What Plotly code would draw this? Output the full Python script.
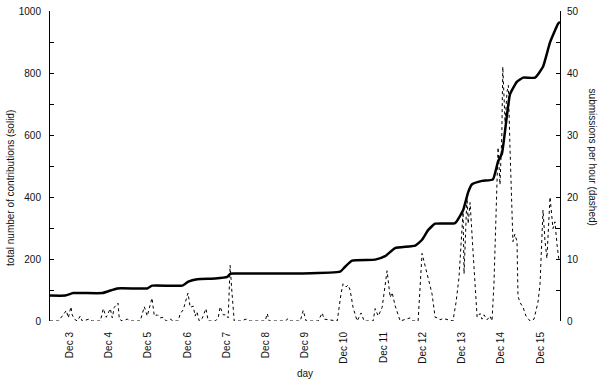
import plotly.graph_objects as go

# Time axis: hours since Dec 3, 00:00 (13 days shown)
day_labels = ["Dec 3", "Dec 4", "Dec 5", "Dec 6", "Dec 7", "Dec 8", "Dec 9",
              "Dec 10", "Dec 11", "Dec 12", "Dec 13", "Dec 14", "Dec 15"]

# Cumulative total of contributions (solid line, left axis)
total_hours = [0, 9.4, 14.2, 32.0, 41.1, 59.5, 62.5, 80.9, 84.6, 90.1, 101.1, 108.4,
               110.2, 112.0, 153.1, 177.5, 180.5, 184.8, 198.9, 205.0, 211.1, 223.4,
               227.6, 231.3, 235.6, 247.8, 252.7, 255.8, 258.2, 264.3, 271.0, 274.1,
               276.5, 279.0, 281.4, 285.7, 289.4, 296.7, 301.6, 305.9, 310.8, 312.0]
total_contrib = [82, 82, 90, 90, 105, 105, 114, 114, 127, 135, 137, 142,
                 152, 153, 153, 159, 175, 195, 198, 209, 235, 243,
                 262, 293, 314, 316, 357, 415, 441, 452, 457, 515,
                 541, 640, 731, 772, 785, 785, 820, 899, 959, 965]

# Submissions per hour (dashed line, right axis)
rate_hours = [0, 5.1, 8.1, 10.0, 11.2, 12.8, 13.6, 14.9, 16.7, 18.5, 19.7, 24.0, 25.9,
              30.8, 32.6, 34.4, 36.9, 38.1, 39.3, 41.6, 42.4, 44.2, 47.3, 49.1,
              55.2, 57.7, 59.5, 62.4, 63.8, 65.6, 67.4, 69.3, 71.1, 73.6, 75.4,
              78.4, 79.7, 81.5, 84.4, 85.8, 87.6, 88.8, 89.9, 91.3, 93.1, 95.4, 96.8,
              101.1, 102.9, 104.1, 106.0, 107.8, 109.0, 110.2, 111.2, 112.1, 112.7,
              116.4, 120.0, 122.5, 131.6, 132.9, 134.1, 143.9, 145.7, 147.6,
              153.1, 154.9, 156.7, 164.1, 165.3, 166.5, 167.7,
              175.7, 178.1, 179.3, 181.1, 182.4, 183.6, 185.4, 187.9, 190.3, 192.2,
              197.7, 198.9, 200.8, 203.2, 206.2, 208.1, 209.3, 211.1, 212.4, 214.2,
              217.9, 220.3, 222.2, 225.2, 227.6, 229.5, 231.3, 233.7, 235.6, 237.4,
              238.6, 240.5, 246.5, 248.4, 250.2, 252.1, 252.7, 253.3, 255.1, 255.8,
              257.0, 258.8, 261.3, 263.1, 264.3, 265.5, 267.4, 269.2, 270.4,
              271.6, 273.3, 274.1, 275.3, 276.4, 277.0, 278.4, 279.6, 280.4, 281.4,
              282.6, 283.2, 284.4, 285.7, 286.3, 287.5, 289.4, 291.2, 293.7,
              296.1, 298.5, 299.8, 301.6, 302.8, 304.0, 305.9, 307.7, 308.9, 310.2, 311.4]
rate_values = [0, 0, 1.0, 1.7, 0.5, 2.3, 1.0, 0.3, 0, 0.8, 0, 0.3, 0,
               0, 2.0, 0.6, 2.0, 0.5, 2.2, 2.9, 0.3, 0, 0.3, 0,
               0, 2.3, 0.8, 3.7, 0.8, 1.0, 0.5, 0.6, 0, 0.3, 0,
               0, 1.2, 1.8, 4.5, 2.2, 2.4, 0.8, 1.5, 0, 0.4, 2.0, 0,
               0, 0.5, 2.3, 1.0, 1.0, 0.5, 9.0, 5.0, 2.5, 0,
               0, 0.3, 0, 0, 1.2, 0, 0, 0.4, 0,
               0, 1.7, 0, 0, 0.8, 1.3, 0.3,
               0, 4.5, 6.0, 5.5, 5.8, 5.0, 2.2, 0, 1.3, 0,
               0, 2.0, 0.8, 2.2, 8.1, 3.8, 4.6, 2.5, 1.3, 0,
               0.3, 0.5, 0, 0, 10.9, 8.9, 7.3, 4.4, 0.6, 0.5,
               0.2, 0.4, 0, 3.0, 7.0, 14.0, 17.6, 7.6, 20.3, 15.7,
               19.1, 11.2, 0.6, 1.2, 0.3, 1.0, 0.2, 0.8, 0,
               6.0, 21.0, 28.0, 22.0, 30.0, 41.0, 32.0, 37.0, 38.0, 28.0,
               18.0, 12.8, 14.0, 12.8, 4.0, 3.0, 2.2, 0.8, 0,
               0.3, 3.0, 6.0, 17.9, 13.0, 10.1, 20.0, 14.9, 16.0, 12.3, 9.7]

left_ticks = list(range(0, 1001, 100))
left_text = [str(v) if v % 200 == 0 else "" for v in left_ticks]
right_ticks = list(range(0, 51, 5))
right_text = [str(v) if v % 10 == 0 else "" for v in right_ticks]
boundary_ticks = [24 * i for i in range(14)]
label_pos = [24 * i + 12 for i in range(len(day_labels))]

FONT = dict(family="Liberation Sans, Arial, sans-serif", size=10, color="#111")

fig = go.Figure()
fig.add_trace(go.Scatter(x=total_hours, y=total_contrib, mode="lines",
                         line=dict(color="black", width=2.5, shape="spline", smoothing=0.4),
                         xaxis="x2", yaxis="y", showlegend=False, hoverinfo="skip"))
fig.add_trace(go.Scatter(x=rate_hours, y=rate_values, mode="lines",
                         line=dict(color="black", width=1, dash="3px,3px"),
                         xaxis="x2", yaxis="y2", showlegend=False, hoverinfo="skip"))

fig.update_layout(
    width=598, height=380,
    margin=dict(l=50, r=38, t=5, b=59),
    paper_bgcolor="white", plot_bgcolor="white",
    font=FONT,
    showlegend=False,
    xaxis=dict(range=[0, 312], tickvals=boundary_ticks, showticklabels=False,
               ticks="inside", ticklen=4, tickcolor="black",
               showline=True, linecolor="black", linewidth=1, mirror="ticks",
               showgrid=False, zeroline=False),
    xaxis2=dict(range=[0, 312], overlaying="x", anchor="y", side="bottom",
                tickvals=label_pos, ticktext=day_labels, tickangle=-90,
                ticks="", showline=False, showgrid=False, zeroline=False,
                ticklabelstandoff=8, tickfont=FONT),
    yaxis=dict(range=[0, 1000], tickvals=left_ticks, ticktext=left_text,
               ticks="inside", ticklen=4, tickcolor="black",
               showline=True, linecolor="black", linewidth=1, mirror=True,
               showgrid=False, zeroline=False, ticklabelstandoff=6,
               ticklabeloverflow="allow", tickfont=FONT),
    yaxis2=dict(range=[0, 50], overlaying="y", side="right", anchor="x",
                tickvals=right_ticks, ticktext=right_text,
                ticks="inside", ticklen=4, tickcolor="black",
                showline=False, showgrid=False, zeroline=False,
                ticklabelstandoff=6, ticklabeloverflow="allow", tickfont=FONT),
    annotations=[
        dict(text="total number of contributions (solid)", xref="paper", yref="paper",
             x=-0.078, y=0.43, textangle=-90, showarrow=False, font=FONT,
             xanchor="center", yanchor="middle"),
        dict(text="submissions per hour (dashed)", xref="paper", yref="paper",
             x=1.063, y=0.53, textangle=90, showarrow=False, font=FONT,
             xanchor="center", yanchor="middle"),
        dict(text="day", xref="paper", yref="paper", x=0.5, y=-0.168,
             showarrow=False, font=FONT, xanchor="center", yanchor="middle"),
    ],
)

fig.write_html("out.html", config={"displayModeBar": False},
               post_script="document.body.style.margin='0';document.body.style.padding='0';")
